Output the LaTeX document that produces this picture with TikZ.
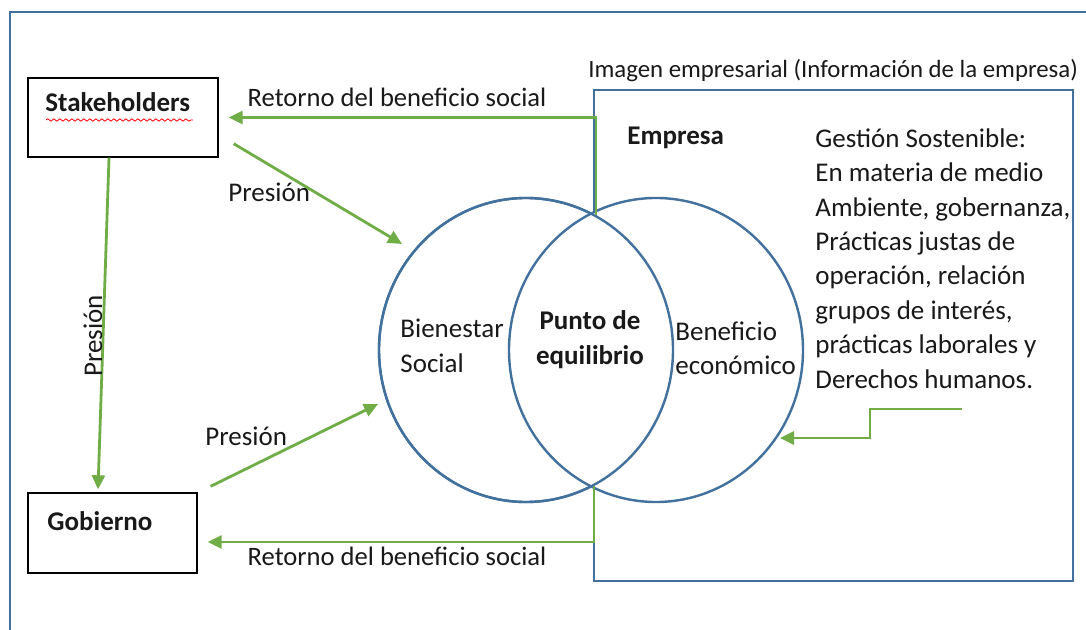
\documentclass[tikz,border=0pt]{standalone}
\usepackage{fontspec}
\setmainfont{Carlito}
\usetikzlibrary{arrows.meta,shapes.geometric,decorations.pathmorphing}

\definecolor{lineblue}{RGB}{65,113,156}
\definecolor{flowgreen}{RGB}{112,173,71}

\tikzset{
  actor/.style={draw=black, line width=0.7pt, inner sep=0pt},
  venn/.style={draw=lineblue, fill=white, line width=1.2pt, ellipse, inner sep=0pt,
    minimum width=147pt, minimum height=152pt},
  flow/.style={draw=flowgreen, line width=1.4pt, -{Triangle[length=7pt,width=6.5pt]}},
  plain/.style={inner sep=0pt, align=left, text=black!90,
    font=\fontsize{13.5}{17.2}\selectfont},
  heavy/.style={plain, font=\fontsize{13.5}{17.2}\selectfont\bfseries},
}

\begin{document}
\begin{tikzpicture}[x=0.5pt, y=-0.5pt]
        \clip (0,0) rectangle (1086,630);
        \fill[white] (0,0) rectangle (1086,630);

        % outer frame
        \draw[lineblue, line width=1.4pt] (1100,12) -| (10,650);

        % actors
        \node[actor, minimum width=95pt, minimum height=39.5pt] (stake) at (123,117.5) {};
        \node[heavy, anchor=base west] (stakelbl) at (45,112) {Stakeholders};
        \draw[red, line width=0.4pt, decorate, decoration={snake, amplitude=0.6pt, segment length=3pt}] (46,120) -- (193,120);

        \node[actor, minimum width=84.5pt, minimum height=40pt] (gob) at (112.5,533) {};
        \node[heavy, anchor=base west] (goblbl) at (47,530) {Gobierno};

        % empresa
        \node[draw=lineblue, line width=1.4pt, inner sep=0pt,
              minimum width=239.5pt, minimum height=245.5pt] (empresa) at (833.5,335.5) {};
        \node[plain, anchor=west, font=\fontsize{12.4}{17.2}\selectfont] (imagen) at (588,71) {Imagen empresarial (Información de la empresa)};
        \node[heavy, anchor=west] (emplbl) at (627,138) {Empresa};
        \node[plain, anchor=west] (gestion) at (815,258.5) {Gestión Sostenible:\\En materia de medio\\Ambiente, gobernanza,\\Prácticas justas de\\operación, relación\\grupos de interés,\\prácticas laborales y\\Derechos humanos.};

        % venn
        \node[venn] (social) at (526,350) {};
        \node[venn] (econ) at (656,350) {};
        \draw[lineblue, line width=1.2pt] (social.center) ellipse [x radius=147, y radius=152];
        \node[plain, anchor=west] (sociallbl) at (400,346) {Bienestar\\Social};
        \node[heavy, align=center] (punto) at (590,339.5) {Punto de\\equilibrio};
        \node[plain, anchor=west] (econlbl) at (675,348.5) {Beneficio\\económico};

        \coordinate (topx) at (596,215);
        \coordinate (botx) at (594,486);

        % flows
        \draw[flow] (topx) |- ([xshift=5pt]stake.east);
        \node[plain, font=\fontsize{13.3}{17.2}\selectfont] (ret1) at (397,97) {Retorno del beneficio social};
        \draw[flow] (botx) |- ([shift={(5pt,-4.5pt)}]gob.east);
        \node[plain, font=\fontsize{13.3}{17.2}\selectfont] (ret2) at (397,556) {Retorno del beneficio social};

        \draw[flow] ([xshift=-7pt]stake.south) -- ([shift={(-7.25pt,1.5pt)}]gob.north);
        \node[plain, rotate=90] (pres1) at (93,336) {Presión};

        \coordinate (p1) at (402,244);
        \draw[flow] ([shift={(7.5pt,7pt)}]stake.south east) -- (p1);
        \node[plain, anchor=west] (pres2) at (228,192) {Presión};

        \coordinate (p2) at (378,404);
        \draw[flow] ([shift={(6.5pt,3pt)}]gob.north east) -- (p2);
        \node[plain, anchor=west] (pres3) at (205,436) {Presión};

        \coordinate (g1) at (962,409);
        \coordinate (g2) at (780,438);
        \draw[flow] (g1) -- (870,409) -- (870,438) -- (g2);
    \end{tikzpicture}
\end{document}
